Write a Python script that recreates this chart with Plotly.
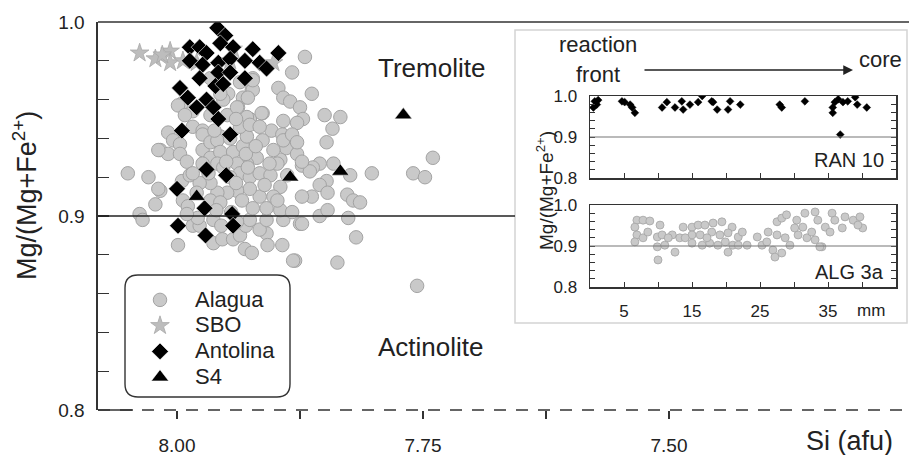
import plotly.graph_objects as go

FONT = "Liberation Sans, Arial, sans-serif"
TXT = "#222222"

# ---------------- main plot data: Si (afu) vs Mg/(Mg+Fe2+) ----------------
alagua_si = [7.870, 7.883, 7.897, 7.863, 7.892, 7.885, 7.875, 7.872, 7.850, 7.834, 7.842, 7.848,
             7.740, 7.760, 7.748, 7.802, 7.824, 7.855, 7.862, 7.841, 7.873, 7.865, 7.848, 7.855,
             7.847, 7.863, 7.827, 7.821, 7.814, 7.826, 7.855, 7.847, 7.875, 7.818, 7.880, 7.837,
             7.756,
             8.050, 8.029, 8.017, 8.038, 8.022, 8.035, 8.019,
             7.999, 7.963, 7.954, 7.943, 7.931, 7.924, 7.909, 7.908, 7.893, 7.882, 7.984, 7.977,
             7.936, 7.930, 7.916, 7.963, 7.926, 7.909, 7.892, 7.873, 7.979,
             7.966, 7.923, 7.924, 7.933, 7.948, 7.953, 7.938, 7.913, 7.926, 7.949, 7.995, 7.984,
             7.878, 7.892, 7.939, 7.929, 7.914, 7.904, 7.893, 7.886, 7.889, 7.878, 7.895, 7.923,
             7.928, 7.936, 7.923, 7.956,
             7.999, 7.992, 8.009, 8.004, 8.017, 8.009, 7.997, 7.984, 7.974, 7.966, 7.956,
             8.019, 7.997, 7.990, 7.995, 7.987, 7.994, 7.989, 7.974, 7.974, 7.966, 7.966, 7.959,
             7.956, 7.959, 7.943, 7.933, 7.929, 7.936, 7.926, 7.916, 7.913, 7.919, 7.929, 7.939,
             7.936, 7.926, 7.916, 7.905, 7.898, 7.902, 7.892, 7.883, 7.878, 7.873, 7.895, 7.902,
             7.916, 7.926, 7.939, 7.949, 7.959, 7.966, 7.977, 7.966, 7.956, 7.934, 7.923, 7.909,
             7.895, 7.883, 7.873, 7.974, 7.984, 7.946, 7.953, 7.946, 7.968, 7.940, 7.911, 7.888,
             7.930, 7.950, 7.920, 7.980, 7.960, 7.945, 7.939, 7.955, 7.990, 7.898, 7.906, 7.928,
             7.962, 7.940]
alagua_mg = [0.982, 0.974, 0.966, 0.963, 0.961, 0.959, 0.956, 0.950, 0.952, 0.951, 0.945, 0.938,
             0.930, 0.922, 0.920, 0.922, 0.921, 0.927, 0.925, 0.927, 0.926, 0.923, 0.918, 0.916,
             0.912, 0.910, 0.911, 0.908, 0.907, 0.899, 0.900, 0.903, 0.896, 0.889, 0.877, 0.876,
             0.864,
             0.922, 0.920, 0.913, 0.901, 0.906, 0.898, 0.914,
             0.885, 0.886, 0.888, 0.888, 0.883, 0.881, 0.891, 0.885, 0.885, 0.877, 0.895, 0.895,
             0.890, 0.895, 0.893, 0.898, 0.898, 0.898, 0.898, 0.896, 0.899,
             0.971, 0.971, 0.965, 0.961, 0.963, 0.960, 0.956, 0.953, 0.950, 0.952, 0.958, 0.954,
             0.948, 0.949, 0.956, 0.951, 0.953, 0.944, 0.942, 0.940, 0.935, 0.932, 0.929, 0.965,
             0.961, 0.969, 0.970, 0.963,
             0.957, 0.952, 0.943, 0.939, 0.934, 0.932, 0.937, 0.946, 0.944, 0.952, 0.941,
             0.934, 0.932, 0.928, 0.918, 0.921, 0.908, 0.905, 0.942, 0.934, 0.930, 0.938, 0.939,
             0.933, 0.927, 0.933, 0.936, 0.941, 0.946, 0.947, 0.946, 0.939, 0.930, 0.927, 0.927,
             0.922, 0.920, 0.922, 0.921, 0.927, 0.934, 0.939, 0.942, 0.938, 0.928, 0.915, 0.910,
             0.910, 0.914, 0.913, 0.912, 0.912, 0.917, 0.917, 0.908, 0.907, 0.908, 0.904, 0.904,
             0.903, 0.902, 0.910, 0.927, 0.922, 0.920, 0.925, 0.940, 0.922, 0.917, 0.916, 0.921,
             0.932, 0.928, 0.936, 0.912, 0.903, 0.902, 0.897, 0.895, 0.901, 0.908, 0.927, 0.925,
             0.944, 0.950]

sbo_si = [8.038, 8.022, 8.007, 8.007, 7.994, 7.980, 7.943, 7.946, 7.902, 8.015]
sbo_mg = [0.984, 0.981, 0.985, 0.979, 0.980, 0.979, 0.986, 0.980, 0.979, 0.983]

antolina_si = [7.959, 7.951, 7.987, 7.977, 7.970, 7.956, 7.943, 7.923, 7.897, 7.987, 7.974,
               7.958, 7.946, 7.931, 7.916, 7.909, 7.977, 7.958, 7.946, 7.931, 7.961, 7.953,
               7.997, 7.989, 7.980, 7.970, 7.963, 7.958, 7.995, 7.946, 7.970, 7.950, 8.000,
               7.972, 7.944, 7.999, 7.943, 7.971]
antolina_mg = [0.997, 0.993, 0.987, 0.987, 0.984, 0.989, 0.987, 0.986, 0.984, 0.980, 0.978,
               0.979, 0.981, 0.980, 0.979, 0.976, 0.971, 0.974, 0.974, 0.971, 0.967, 0.968,
               0.966, 0.961, 0.956, 0.960, 0.956, 0.950, 0.944, 0.942, 0.924, 0.921, 0.914,
               0.904, 0.901, 0.895, 0.895, 0.890]

s4_si = [7.770, 7.885, 7.834, 7.980]
s4_mg = [0.952, 0.920, 0.923, 0.910]

series_names = ["Alagua", "SBO", "Antolina", "S4"]

# ---------------- inset data: distance (mm) vs Mg/(Mg+Fe2+) ----------------
ran10_mm = [0.7, 1.0, 0.5, 1.2, 4.7, 5.1, 5.9, 6.2, 6.6, 10.6, 11.3, 12.5, 13.5, 13.7, 14.7,
            15.9, 16.5, 17.9, 18.1, 18.7, 20.3, 20.6, 22.1, 27.9, 28.2, 31.6, 35.7, 35.7, 36.0,
            36.5, 36.8, 37.2, 37.9, 39.0, 39.3, 40.7]
ran10_mg = [0.987, 0.979, 0.972, 0.990, 0.987, 0.985, 0.979, 0.972, 0.959, 0.972, 0.985, 0.972,
            0.987, 0.967, 0.979, 0.985, 1.000, 0.987, 0.985, 0.967, 0.967, 0.987, 0.979, 0.979,
            0.972, 0.987, 0.959, 0.972, 0.985, 0.992, 0.906, 0.985, 0.987, 0.997, 0.979, 0.972]

alg3a_mm = [6.9, 7.8, 8.8, 6.6, 6.9, 6.6, 7.8, 8.5, 10.3, 9.9, 10.6, 9.9, 11.0, 12.1, 12.5, 13.2,
            10.0, 11.5,
            13.7, 15.0, 15.9, 16.9, 18.1, 19.4, 20.9, 15.0, 16.2, 17.9, 19.1, 20.3, 21.8, 15.0,
            16.5, 17.6, 18.8, 19.9, 21.0, 20.3, 21.8, 23.1, 22.4, 14.0, 17.2,
            24.6, 25.3, 26.2, 26.9, 27.2, 28.2, 27.5, 28.2, 28.9, 27.5, 28.7, 29.4, 30.4, 31.6,
            33.1, 31.3, 30.6, 31.9, 33.1, 33.5, 34.6, 35.6, 36.0, 35.3, 34.1, 37.1, 37.5, 38.7,
            39.7, 40.1, 39.4, 32.6, 30.1, 26.0, 33.8]
alg3a_mg = [0.963, 0.963, 0.961, 0.946, 0.927, 0.910, 0.920, 0.934, 0.951, 0.922, 0.927, 0.898,
            0.902, 0.927, 0.885, 0.920, 0.866, 0.920,
            0.946, 0.946, 0.951, 0.951, 0.956, 0.959, 0.946, 0.927, 0.927, 0.934, 0.927, 0.932,
            0.922, 0.907, 0.902, 0.907, 0.902, 0.910, 0.902, 0.885, 0.902, 0.902, 0.934, 0.920,
            0.920,
            0.922, 0.902, 0.934, 0.890, 0.873, 0.883, 0.959, 0.968, 0.976, 0.927, 0.920, 0.902,
            0.963, 0.980, 0.983, 0.946, 0.927, 0.920, 0.915, 0.963, 0.946, 0.980, 0.963, 0.934,
            0.898, 0.944, 0.971, 0.963, 0.971, 0.944, 0.951, 0.934, 0.944, 0.910, 0.898]

# tick definitions
main_y_ticks = [0.80, 0.82, 0.84, 0.86, 0.88, 0.90, 0.92, 0.94, 0.96, 0.98, 1.00]
main_y_text = ["0.8", "", "", "", "", "0.9", "", "", "", "", "1.0"]
main_x_ticks = [8.00, 7.875, 7.75, 7.625, 7.50]
main_x_text = ["8.00", "", "7.75", "", "7.50"]
inset_x_ticks = [5, 10, 15, 20, 25, 30, 35, 40]
inset_x_text = ["5", "", "15", "", "25", "", "35", ""]

W, H = 909, 455
def px(x):
    return x / W
def py(y):
    return (H - y) / H

def legend_label(s):
    return f"<span style='font-size:22px'>{s}</span>"

fig = go.Figure()

circle_fill = "#c9c9c9"
circle_line = "#a3a3a3"

fig.add_trace(go.Scatter(x=alagua_si, y=alagua_mg, mode="markers", name=legend_label(series_names[0]),
                         marker=dict(symbol="circle", size=13.5, color=circle_fill,
                                     line=dict(color=circle_line, width=1))))
fig.add_trace(go.Scatter(x=sbo_si, y=sbo_mg, mode="markers", name=legend_label(series_names[1]),
                         marker=dict(symbol="star", size=14, color="#bdbdbd",
                                     line=dict(color="#a8a8a8", width=0.8))))
fig.add_trace(go.Scatter(x=antolina_si, y=antolina_mg, mode="markers", name=legend_label(series_names[2]),
                         marker=dict(symbol="diamond", size=13, color="#000000",
                                     line=dict(color="#ffffff", width=0.6))))
fig.add_trace(go.Scatter(x=s4_si, y=s4_mg, mode="markers", name=legend_label(series_names[3]),
                         marker=dict(symbol="triangle-up", size=15, color="#000000",
                                     line=dict(color="#ffffff", width=0.5))))

fig.add_trace(go.Scatter(x=ran10_mm, y=ran10_mg, mode="markers", xaxis="x2", yaxis="y2",
                         showlegend=False,
                         marker=dict(symbol="diamond", size=6, color="#000000",
                                     line=dict(color="#000000", width=0.5))))
fig.add_trace(go.Scatter(x=alg3a_mm, y=alg3a_mg, mode="markers", xaxis="x3", yaxis="y3",
                         showlegend=False,
                         marker=dict(symbol="circle", size=8, color=circle_fill,
                                     line=dict(color=circle_line, width=0.8))))

main_x0, main_x1 = 8.0803, 7.2561
dom_x = [px(98), 1.0]
dom_y = [py(410), py(22)]
inset_dom_x = [px(590), px(896)]
up_dom_y = [py(178), py(96)]
lo_dom_y = [py(287), py(205)]

axis_common = dict(showgrid=False, zeroline=False, automargin=False)

layout = dict(
    template="none",
    width=W, height=H,
    margin=dict(l=0, r=0, t=0, b=0, pad=0, autoexpand=False),
    paper_bgcolor="white", plot_bgcolor="rgba(0,0,0,0)",
    font=dict(family=FONT, color=TXT),
    showlegend=True,
    legend=dict(x=px(125), y=py(282), xanchor="left", yanchor="top",
                bgcolor="rgba(0,0,0,0)", borderwidth=0,
                font=dict(size=17.5, family=FONT, color=TXT),
                itemwidth=60, tracegroupgap=0),
    xaxis=dict(domain=dom_x, range=[main_x0, main_x1], anchor="y",
               tickvals=main_x_ticks, ticktext=main_x_text,
               ticks="outside", ticklen=8, tickwidth=1.3, tickcolor="#333",
               tickfont=dict(size=19), ticklabelstandoff=10,
               showline=False, **axis_common),
    yaxis=dict(domain=dom_y, range=[0.8, 1.0], anchor="x",
               tickvals=main_y_ticks, ticktext=main_y_text,
               ticks="inside", ticklen=11, tickwidth=1.3, tickcolor="#333",
               tickfont=dict(size=19), ticklabelstandoff=8,
               showline=True, linewidth=1.6, linecolor="#333", **axis_common),
    xaxis2=dict(domain=inset_dom_x, range=[0, 45], anchor="y2",
                tickvals=inset_x_ticks, ticktext=["", "", "", "", "", "", "", ""],
                ticks="inside", ticklen=5, tickwidth=1, tickcolor="#333",
                showline=True, mirror=True, linewidth=1.5, linecolor="#333", **axis_common),
    yaxis2=dict(domain=up_dom_y, range=[0.8, 1.0], anchor="x2",
                tickvals=main_y_ticks, ticktext=main_y_text,
                ticks="inside", ticklen=5, tickwidth=1, tickcolor="#333",
                tickfont=dict(size=17), ticklabelstandoff=8,
                showline=True, mirror="ticks", linewidth=1.5, linecolor="#333", **axis_common),
    xaxis3=dict(domain=inset_dom_x, range=[0, 45], anchor="y3",
                tickvals=inset_x_ticks, ticktext=inset_x_text,
                ticks="inside", ticklen=5, tickwidth=1, tickcolor="#333",
                tickfont=dict(size=17), ticklabelstandoff=8,
                showline=True, mirror=True, linewidth=1.5, linecolor="#333", **axis_common),
    yaxis3=dict(domain=lo_dom_y, range=[0.8, 1.0], anchor="x3",
                tickvals=main_y_ticks, ticktext=main_y_text,
                ticks="inside", ticklen=5, tickwidth=1, tickcolor="#333",
                tickfont=dict(size=17), ticklabelstandoff=8,
                showline=True, mirror="ticks", linewidth=1.5, linecolor="#333", **axis_common),
)
fig.update_layout(**layout)

shapes = []
# inset panel background
shapes.append(dict(type="rect", xref="paper", yref="paper", x0=px(515), x1=px(907),
                   y0=py(323), y1=py(30), line=dict(color="#d4d4d4", width=1.5),
                   fillcolor="white", layer="below"))
# top boundary line (Mg# = 1.0)
shapes.append(dict(type="line", xref="paper", yref="paper", x0=dom_x[0], x1=1.0,
                   y0=dom_y[1], y1=dom_y[1], line=dict(color="#333", width=1.6)))
# tremolite / actinolite boundary (0.9)
shapes.append(dict(type="line", xref="x", yref="y", x0=main_x0, x1=7.6565,
                   y0=0.9, y1=0.9, line=dict(color="#222", width=1.6)))
# dashed bottom line
shapes.append(dict(type="line", xref="paper", yref="paper", x0=dom_x[0], x1=1.0,
                   y0=dom_y[0], y1=dom_y[0], line=dict(color="#333", width=1.4, dash="12px,10px")))
shapes.append(dict(type="line", xref="paper", yref="paper", x0=dom_x[0], x1=px(133),
                   y0=dom_y[0], y1=dom_y[0], line=dict(color="#333", width=1.4)))
# inset 0.9 reference lines
for xa, ya in (("x2", "y2"), ("x3", "y3")):
    shapes.append(dict(type="line", xref=xa, yref=ya, x0=0, x1=45, y0=0.9, y1=0.9,
                       line=dict(color="#777", width=1.2)))
# legend rounded box
lw, lh, r = 165, 122, 13
path = (f"M {r},0 L {lw-r},0 Q {lw},0 {lw},{r} L {lw},{lh-r} Q {lw},{lh} {lw-r},{lh} "
        f"L {r},{lh} Q 0,{lh} 0,{lh-r} L 0,{r} Q 0,0 {r},0 Z")
shapes.append(dict(type="path", xref="paper", yref="paper", xsizemode="pixel", ysizemode="pixel",
                   xanchor=px(125), yanchor=py(397), path=path,
                   line=dict(color="#333", width=1.4), fillcolor="rgba(0,0,0,0)"))
fig.update_layout(shapes=shapes)

ann = []
def text(x, y, s, size, **kw):
    ann.append(dict(x=px(x), y=py(y), xref="paper", yref="paper", text=s, showarrow=False,
                    xanchor="center", yanchor="middle",
                    font=dict(size=size, family=FONT, color=TXT), **kw))

text(431, 68, "Tremolite", 26)
text(431, 347, "Actinolite", 26)
text(849, 441, "Si (afu)", 27)
text(25, 196, "Mg/(Mg+Fe<sup>2+</sup>)", 27, textangle=-90)
text(545, 191, "Mg/(Mg+Fe<sup>2+</sup>)", 19, textangle=-90)
text(598, 45, "reaction", 22)
text(598, 75, "front", 22)
text(880, 60, "core", 22)
text(849, 160, "RAN 10", 20)
text(849, 272, "ALG 3a", 20)
text(871, 310, "mm", 17)
ann.append(dict(x=px(853), y=py(70), ax=-210, ay=0, xref="paper", yref="paper",
                axref="pixel", ayref="pixel", text="", showarrow=True, arrowhead=2,
                arrowsize=1.3, arrowwidth=1.5, arrowcolor="#222"))
fig.update_layout(annotations=ann)

fig.write_html("out.html", config={"displayModeBar": False, "staticPlot": True},
               post_script="document.body.style.margin='0';document.body.style.padding='0';")
